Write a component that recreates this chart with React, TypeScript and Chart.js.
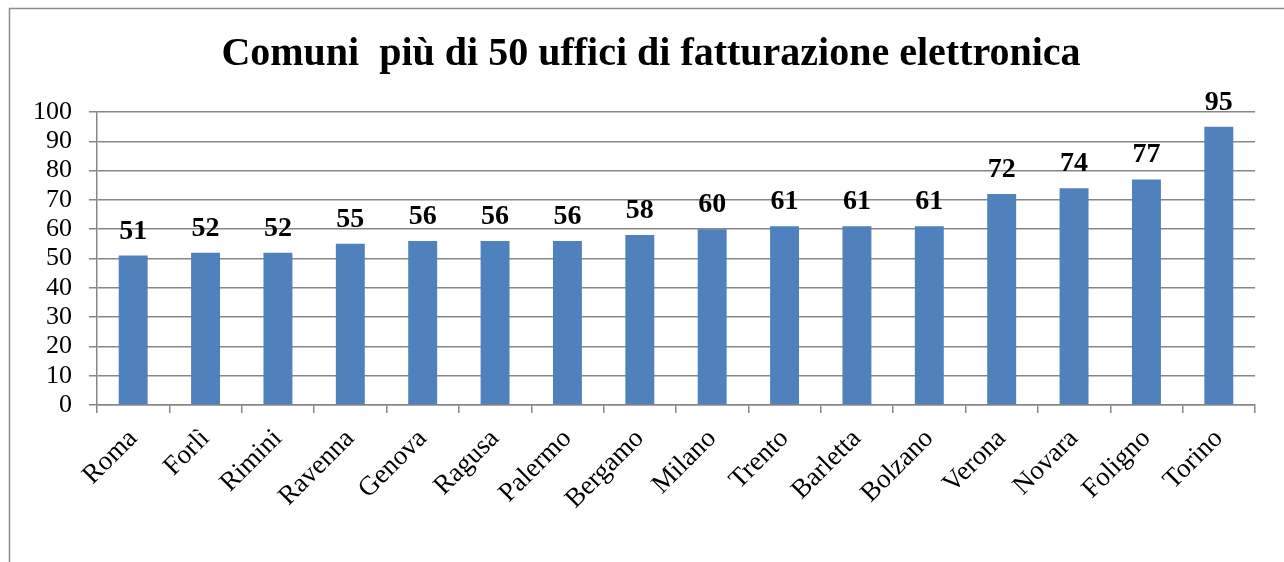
import React, { useEffect, useRef } from "react";
import { Chart, registerables } from "chart.js";

Chart.register(...registerables);

const categories = [
  "Roma", "Forlì", "Rimini", "Ravenna", "Genova", "Ragusa", "Palermo", "Bergamo",
  "Milano", "Trento", "Barletta", "Bolzano", "Verona", "Novara", "Foligno", "Torino",
];
const values = [51, 52, 52, 55, 56, 56, 56, 58, 60, 61, 61, 61, 72, 74, 77, 95];
const chartTitle = "Comuni  più di 50 uffici di fatturazione elettronica";
const yMin = 0;
const yMax = 100;
const yStep = 10;

const SERIF = '"Liberation Serif", "Times New Roman", serif';

const framePlugin = {
  id: "frameAndTitle",
  beforeDraw(chart: any) {
    const ctx = chart.ctx;
    ctx.save();
    ctx.fillStyle = "#ffffff";
    ctx.fillRect(0, 0, chart.width, chart.height);
    ctx.strokeStyle = "#8c8c8c";
    ctx.lineWidth = 1.5;
    ctx.strokeRect(9.5, 8.5, chart.width + 50, chart.height + 50);
    ctx.fillStyle = "#000000";
    ctx.font = `bold 40px ${SERIF}`;
    ctx.textAlign = "center";
    ctx.textBaseline = "alphabetic";
    ctx.fillText(chartTitle, 651, 65);
    ctx.restore();
  },
  afterDatasetsDraw(chart: any) {
    const ctx = chart.ctx;
    const meta = chart.getDatasetMeta(0);
    ctx.save();
    ctx.fillStyle = "#000000";
    ctx.font = `bold 28px ${SERIF}`;
    ctx.textAlign = "center";
    ctx.textBaseline = "alphabetic";
    meta.data.forEach((bar: any, i: number) => {
      ctx.fillText(String(chart.data.datasets[0].data[i]), bar.x, bar.y - 17);
    });
    ctx.restore();
  },
};

export default function App() {
  const ref = useRef<HTMLCanvasElement | null>(null);
  useEffect(() => {
    if (!ref.current) return;
    const chart = new Chart(ref.current, {
      type: "bar",
      data: {
        labels: categories,
        datasets: [
          {
            data: values,
            backgroundColor: "#4F81BD",
            borderWidth: 0,
            barPercentage: 0.4,
            categoryPercentage: 1,
          },
        ],
      },
      options: {
        responsive: false,
        animation: false,
        devicePixelRatio: 1,
        layout: { padding: { top: 112, right: 29, left: 0, bottom: 0 } },
        plugins: {
          legend: { display: false },
          title: { display: false },
          tooltip: { enabled: false },
        },
        scales: {
          x: {
            afterFit(scale: any) {
              scale.height = 157;
            },
            grid: {
              drawOnChartArea: false,
              drawTicks: true,
              tickLength: 8,
              color: "#878787",
              lineWidth: 1.5,
              offset: true,
            },
            border: { color: "#878787", width: 1.5 },
            ticks: {
              color: "#000000",
              font: { family: SERIF, size: 27 },
              minRotation: 45,
              maxRotation: 45,
              autoSkip: false,
              padding: 10,
            },
          },
          y: {
            min: yMin,
            max: yMax,
            afterFit(scale: any) {
              scale.width = 97;
            },
            grid: {
              color: "#878787",
              lineWidth: 1.5,
              drawTicks: true,
              tickLength: 8,
            },
            border: { color: "#878787", width: 1.5 },
            ticks: {
              stepSize: yStep,
              autoSkip: false,
              color: "#000000",
              font: { family: SERIF, size: 26 },
              padding: 17,
            },
          },
        },
      },
      plugins: [framePlugin],
    });
    return () => chart.destroy();
  }, []);
  return (
    <div style={{ position: "fixed", left: 0, top: 0, width: 1284, height: 562, background: "#fff" }}>
      <canvas ref={ref} width={1284} height={562} style={{ display: "block" }} />
    </div>
  );
}
